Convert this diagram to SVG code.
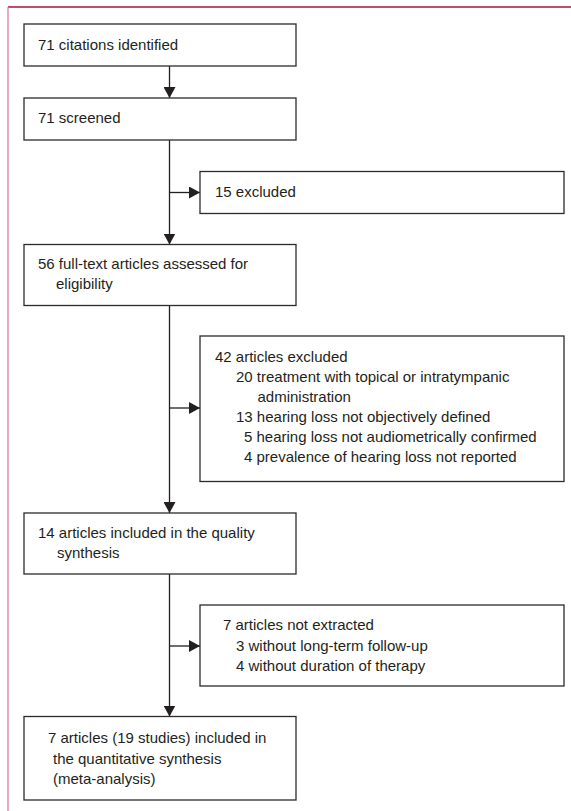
<svg xmlns="http://www.w3.org/2000/svg" width="571" height="811" viewBox="0 0 571 811">
<defs>
<style>
.box{fill:#fff;stroke:#2b2b2b;stroke-width:1.3}
.t{font-family:"Liberation Sans",Arial,sans-serif;font-size:15px;fill:#231f20}
.c{fill:none;stroke:#231f20;stroke-width:1.3}
</style>
<marker id="ah" markerUnits="userSpaceOnUse" markerWidth="12" markerHeight="12" refX="11" refY="6" orient="auto">
<path d="M0,0 L11,6 L0,12 Z" fill="#231f20"/>
</marker>
</defs>
<rect width="571" height="811" fill="#fff"/>
<g id="frame">
<line x1="8" y1="7" x2="571" y2="7" stroke="#a8153b" stroke-width="1.5"/>
<line x1="8" y1="7" x2="8" y2="811" stroke="#e07c9c" stroke-width="1.3"/>
</g>
<g id="connectors">
<line class="c" x1="169.5" y1="66" x2="169.5" y2="98" marker-end="url(#ah)"/>
<line class="c" x1="169.5" y1="140" x2="169.5" y2="244.5" marker-end="url(#ah)"/>
<line class="c" x1="169.5" y1="192.5" x2="200" y2="192.5" marker-end="url(#ah)"/>
<line class="c" x1="169.5" y1="305.5" x2="169.5" y2="513" marker-end="url(#ah)"/>
<line class="c" x1="169.5" y1="408" x2="200" y2="408" marker-end="url(#ah)"/>
<line class="c" x1="169.5" y1="574" x2="169.5" y2="716.5" marker-end="url(#ah)"/>
<line class="c" x1="169.5" y1="646" x2="200" y2="646" marker-end="url(#ah)"/>
</g>
<g id="n1">
<rect class="box" x="24" y="24" width="272" height="42"/>
<text class="t" x="38" y="49.5">71 citations identified</text>
</g>
<g id="n2">
<rect class="box" x="24" y="98" width="272" height="42"/>
<text class="t" x="38" y="123">71 screened</text>
</g>
<g id="n3">
<rect class="box" x="200" y="171.5" width="364" height="42"/>
<text class="t" x="215" y="197">15 excluded</text>
</g>
<g id="n4">
<rect class="box" x="24" y="244.5" width="272" height="61"/>
<text class="t" x="38" y="269">56 full-text articles assessed for</text>
<text class="t" x="56" y="289">eligibility</text>
</g>
<g id="n5">
<rect class="box" x="200" y="336" width="364" height="145.5"/>
<text class="t" x="215" y="362">42 articles excluded</text>
<text class="t" x="236" y="382">20 treatment with topical or intratympanic</text>
<text class="t" x="257.5" y="402">administration</text>
<text class="t" x="236" y="422">13 hearing loss not objectively defined</text>
<text class="t" x="244" y="442">5 hearing loss not audiometrically confirmed</text>
<text class="t" x="244" y="462">4 prevalence of hearing loss not reported</text>
</g>
<g id="n6">
<rect class="box" x="24" y="513" width="272" height="61"/>
<text class="t" x="38" y="538">14 articles included in the quality</text>
<text class="t" x="57" y="558">synthesis</text>
</g>
<g id="n7">
<rect class="box" x="200" y="605" width="364" height="81"/>
<text class="t" x="223" y="630">7 articles not extracted</text>
<text class="t" x="236" y="651">3 without long-term follow-up</text>
<text class="t" x="236" y="671">4 without duration of therapy</text>
</g>
<g id="n8">
<rect class="box" x="24" y="716.5" width="272" height="83.5"/>
<text class="t" x="48" y="743">7 articles (19 studies) included in</text>
<text class="t" x="53" y="764">the quantitative synthesis</text>
<text class="t" x="53" y="784">(meta-analysis)</text>
</g>
</svg>
